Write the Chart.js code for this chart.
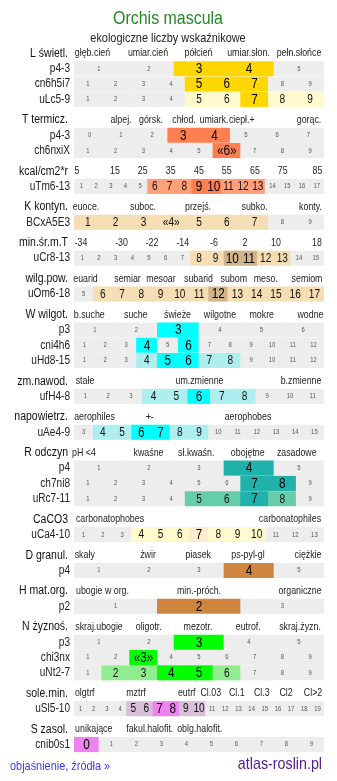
<!DOCTYPE html>
<html>
<head>
<meta charset="utf-8">
<script src="https://cdn.jsdelivr.net/npm/chart.js@4.4.1/dist/chart.umd.min.js"></script>
<style>
  html, body { margin: 0; padding: 0; background: #fff; }
  #wrap { width: 337px; height: 781px; position: relative; }
</style>
</head>
<body>
<div id="wrap"><canvas id="chart"></canvas></div>
<script>
const title = 'Orchis mascula';
const subtitle = 'ekologiczne liczby wskaźnikowe';
const footLink = 'objaśnienie, źródła »';
const brand = 'atlas-roslin.pl';

// sections: name on the left, scale words above the rows
const groupNames = ['L świetl.', 'T termicz.', 'kcal/cm2*r', 'K kontyn.', 'min.śr.m.T', 'wilg.pow.',
  'W wilgot.', 'zm.nawod.', 'napowietrz.', 'R odczyn', 'CaCO3', 'D granul.', 'H mat.org.',
  'N żyznoś.', 'sole.min.', 'S zasol.'];
const groupTicks = [
  ['głęb.cień', 'umiar.cień', 'półcień', 'umiar.słon.', 'pełn.słońce'],
  ['alpej.', 'górsk.', 'chłod.', 'umiark.', 'ciepł.+', 'gorąc.'],
  ['5', '15', '25', '35', '45', '55', '65', '75', '85'],
  ['euoce.', 'suboc.', 'przejś.', 'subko.', 'konty.'],
  ['-34', '-30', '-22', '-14', '-6', '2', '10', '18'],
  ['euarid', 'semiar', 'mesoar', 'subarid', 'subom', 'meso.', 'semiom'],
  ['b.suche', 'suche', 'świeże', 'wilgotne', 'mokre', 'wodne'],
  ['stałe', 'um.zmienne', 'b.zmienne'],
  ['aerophiles', '+-', 'aerophobes'],
  ['pH <4', 'kwaśne', 'sł.kwaśn.', 'obojętne', 'zasadowe'],
  ['carbonatophobes', 'carbonatophiles'],
  ['skały', 'żwir', 'piasek', 'ps-pyl-gl', 'ciężkie'],
  ['ubogie w org.', 'min.-próch.', 'organiczne'],
  ['skraj.ubogie', 'oligotr.', 'mezotr.', 'eutrof.', 'skraj.żyzn.'],
  ['olgtrf', 'mztrf', 'eutrf', 'Cl.03', 'Cl.1', 'Cl.3', 'Cl2', 'Cl>2'],
  ['unikające', 'fakul.halofit.', 'oblg.halofit.']
];

// rows: which section, name, cell labels, level of each cell (0 none, 1 weak, 2 strong)
const rowGroup = [0, 0, 0, 1, 1, 2, 3, 4, 5, 6, 6, 6, 7, 8, 9, 9, 9, 10, 11, 12, 13, 13, 13, 14, 15];
const rowNames = ['p4-3', 'cn6h5i7', 'uLc5-9', 'p4-3', 'ch6nxiX', 'uTm6-13', 'BCxA5E3', 'uCr8-13',
  'uOm6-18', 'p3', 'cni4h6', 'uHd8-15', 'ufH4-8', 'uAe4-9', 'p4', 'ch7ni8', 'uRc7-11', 'uCa4-10',
  'p4', 'p2', 'p3', 'chi3nx', 'uNt2-7', 'uSl5-10', 'cnib0s1'];
const rowCells = [
  '1 2 3 4 5',
  '1 2 3 4 5 6 7 8 9',
  '1 2 3 4 5 6 7 8 9',
  '0 1 2 3 4 5 6 7',
  '1 2 3 4 5 «6» 7 8 9',
  '1 2 3 4 5 6 7 8 9 10 11 12 13 14 15 16 17',
  '1 2 3 «4» 5 6 7 8 9',
  '1 2 3 4 5 6 7 8 9 10 11 12 13 14 15',
  '5 6 7 8 9 10 11 12 13 14 15 16 17',
  '1 2 3 4 5 6',
  '1 2 3 4 5 6 7 8 9 10 11 12',
  '1 2 3 4 5 6 7 8 9 10 11 12',
  '1 2 3 4 5 6 7 8 9 10 11',
  '3 4 5 6 7 8 9 10 11 12 13 14 15',
  '1 2 3 4 5',
  '1 2 3 4 5 6 7 8 9',
  '1 2 3 4 5 6 7 8 9',
  '1 2 3 4 5 6 7 8 9 10 11 12 13',
  '1 2 3 4 5',
  '1 2 3',
  '1 2 3 4 5',
  '1 2 «3» 4 5 6 7 8 9',
  '1 2 3 4 5 6 7 8 9',
  '1 2 3 4 5 6 7 8 9 10 11 12 13 14 15 16 17 18 19',
  '0 1 2 3 4 5 6 7 8 9'
];
const rowLevels = [
  '00220', '000022200', '000011211',
  '00022000', '000002000',
  '00000111221110000',
  '111111100',
  '000000011221100',
  '0111111211111',
  '002000', '000202000000', '000122110000',
  '00011211000',
  '0112211000000',
  '00020', '000000220', '000011210',
  '0001112111000',
  '00020',
  '020',
  '00200', '002000000', '011221000',
  '0000112211000000000',
  '2000000000'
];

// ---- styles / layout ----
const groupColors = [
  ['#fffacd', '#ffd700'], ['#ffa07a', '#ff7f50'], ['#ffa07a', '#ff7f50'],
  ['#f5deb3', '#d2b48c'], ['#f5deb3', '#d2b48c'], ['#f5deb3', '#d2b48c'],
  ['#afeeee', '#00ffff'], ['#afeeee', '#00ffff'], ['#afeeee', '#00ffff'],
  ['#66cdaa', '#20b2aa'], ['#fffacd', '#ffebcd'], ['#deb887', '#cd853f'],
  ['#deb887', '#cd853f'], ['#90ee90', '#00ff00'], ['#d8bfd8', '#ee82ee'], ['#d8bfd8', '#ee82ee']
];
const GREY = '#ededed';
// centre of each scale word, as a fraction of the cell strip
const groupTickPos = [
  [0.074, 0.296, 0.498, 0.698, 0.9],
  [0.188, 0.308, 0.44, 0.56, 0.671, 0.94],
  [0.012, 0.164, 0.275, 0.387, 0.5, 0.611, 0.724, 0.835, 0.974],
  [0.048, 0.276, 0.496, 0.722, 0.946],
  [0.028, 0.19, 0.312, 0.435, 0.56, 0.684, 0.808, 0.972],
  [0.046, 0.214, 0.348, 0.498, 0.639, 0.767, 0.932],
  [0.061, 0.247, 0.414, 0.584, 0.751, 0.946],
  [0.044, 0.502, 0.908],
  [0.082, 0.303, 0.696],
  [0.04, 0.298, 0.489, 0.695, 0.891],
  [0.144, 0.864],
  [0.043, 0.296, 0.497, 0.696, 0.936],
  [0.114, 0.5, 0.904],
  [0.1, 0.299, 0.496, 0.697, 0.904],
  [0.043, 0.248, 0.451, 0.547, 0.651, 0.751, 0.848, 0.956],
  [0.079, 0.303, 0.503]
];
const TOP = 53.5, STEP = 15.3, GAP = 5.27;
const SQ = 0.84; // horizontal squeeze of all text
const FONT = '"Liberation Sans", Arial, sans-serif';

// vertical position of each header line and row line
const headerY = [];
const rowY = [];
let line = 0, gapCount = 0, prevGroup = -1;
rowGroup.forEach((g, r) => {
  if (g !== prevGroup) {
    if (prevGroup >= 0) gapCount++;
    headerY[g] = TOP + line * STEP + gapCount * GAP;
    line++;
    prevGroup = g;
  }
  rowY[r] = TOP + line * STEP + gapCount * GAP;
  line++;
});

const cellData = [];
const cellColors = [];
const cellInfo = [];
rowCells.forEach((str, r) => {
  const labels = str.split(' ');
  const n = labels.length;
  labels.forEach((lab, i) => {
    const lvl = +rowLevels[r][i];
    cellData.push({ x: [i / n, (i + 1) / n], y: rowY[r] });
    cellColors.push(lvl === 0 ? GREY : groupColors[rowGroup[r]][lvl - 1]);
    cellInfo.push({ label: lab, level: lvl });
  });
});

function txt(ctx, s, x, y, size, color, align) {
  ctx.save();
  ctx.translate(x, y);
  ctx.scale(SQ, 1);
  ctx.font = size + 'px ' + FONT;
  ctx.fillStyle = color;
  ctx.textAlign = align;
  ctx.textBaseline = 'middle';
  ctx.fillText(s, 0, 0);
  ctx.restore();
}

const textPlugin = {
  id: 'texts',
  afterDatasetsDraw(chart) {
    const ctx = chart.ctx;
    const xs = chart.scales.x, ys = chart.scales.y;
    const left = chart.chartArea.left;

    txt(ctx, title, 168, ys.getPixelForValue(19), 19, '#228b22', 'center');
    txt(ctx, subtitle, 168, ys.getPixelForValue(38), 13, '#222', 'center');

    groupNames.forEach((name, g) => {
      const y = ys.getPixelForValue(headerY[g]);
      txt(ctx, name, left - 6, y, 12.5, '#111', 'right');
      groupTicks[g].forEach((t, k) => {
        txt(ctx, t, xs.getPixelForValue(groupTickPos[g][k]), y, 10.5, '#222', 'center');
      });
    });

    rowNames.forEach((name, r) => {
      txt(ctx, name, left - 4, ys.getPixelForValue(rowY[r]), 12, '#222', 'right');
    });

    const meta = chart.getDatasetMeta(0);
    meta.data.forEach((el, i) => {
      const c = cellInfo[i];
      const cx = (el.x + el.base) / 2;
      if (c.level === 0) txt(ctx, c.label, cx, el.y, 7, '#555', 'center');
      else if (c.level === 1) txt(ctx, c.label, cx, el.y + 0.5, 12, '#111', 'center');
      else txt(ctx, c.label, cx, el.y + 0.5, 14, '#000', 'center');
    });

    txt(ctx, footLink, 10, ys.getPixelForValue(766), 13, '#3a3aff', 'left');
    txt(ctx, brand, 322, ys.getPixelForValue(764), 17, '#551a8b', 'right');
  }
};

new Chart(document.getElementById('chart'), {
  type: 'bar',
  data: {
    datasets: [{
      data: cellData,
      backgroundColor: cellColors,
      borderWidth: 0,
      barThickness: 14.4
    }]
  },
  options: {
    indexAxis: 'y',
    responsive: true,
    maintainAspectRatio: false,
    animation: false,
    layout: { padding: { left: 74, right: 13, top: 0, bottom: 0 } },
    scales: {
      x: { type: 'linear', min: 0, max: 1, display: false },
      y: { type: 'linear', min: 0, max: 781, reverse: true, display: false, offset: false }
    },
    plugins: { legend: { display: false }, tooltip: { enabled: false } }
  },
  plugins: [textPlugin]
});
</script>
</body>
</html>
